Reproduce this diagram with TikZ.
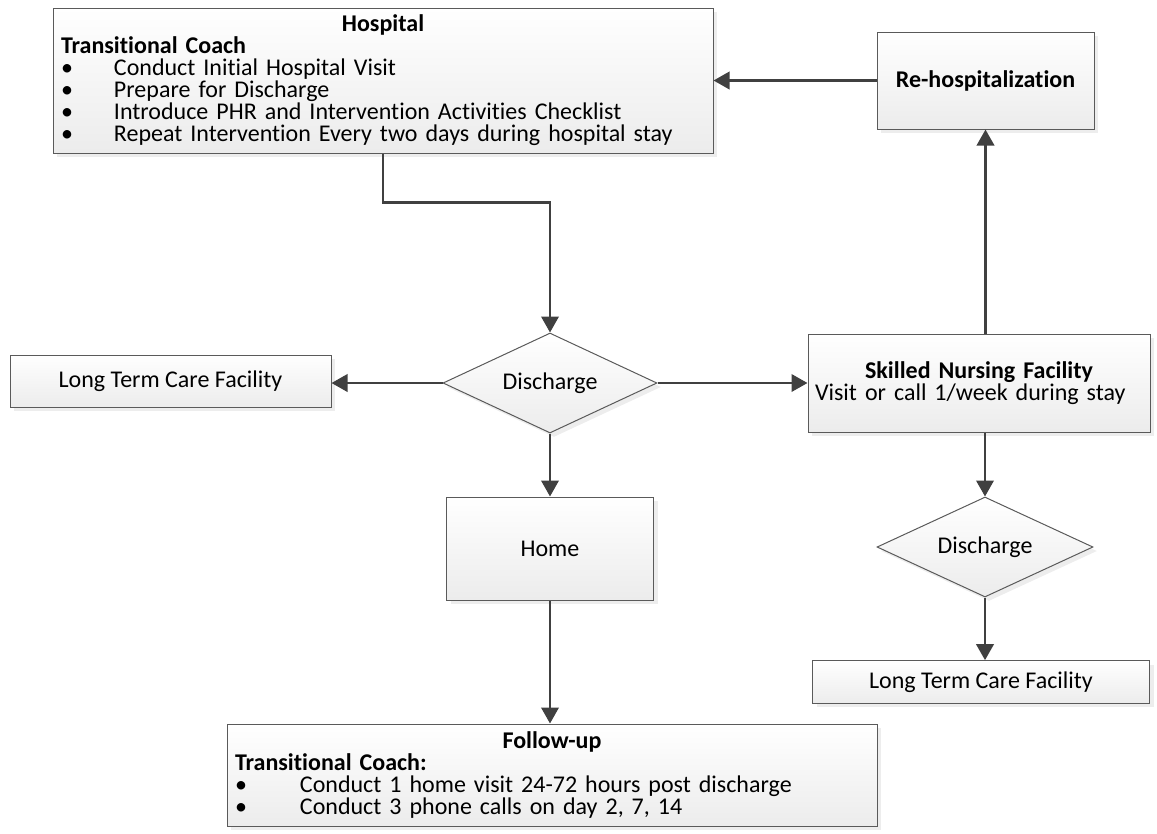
\documentclass[tikz,border=0pt]{standalone}
\usepackage{fontspec}
\setmainfont{Carlito}[Ligatures=NoCommon]
\usetikzlibrary{arrows.meta,positioning,calc,shapes.geometric,shadows}
\definecolor{edge}{HTML}{404040}
\definecolor{frame}{HTML}{5A5A5A}
\newcommand{\bul}[1]{\makebox[#1][l]{\textbullet}}

\begin{document}
\begin{tikzpicture}[x=0.75pt,y=-0.75pt,
  font=\fontsize{18}{16.5}\selectfont,
  box/.style={draw=frame, line width=0.75pt, top color=white, bottom color=gray!15, inner sep=0pt,
    drop shadow={shadow xshift=3pt, shadow yshift=-3pt, fill=gray!28}},
  dec/.style={box, diamond, aspect=2.14},
  arr/.style={-{Triangle[length=12pt,width=13pt]}, draw=edge, line width=2pt}]
\useasboundingbox (0,0) rectangle (1157,833);
% ----- top row
\node[box, minimum width=495pt, minimum height=108.75pt, text width=483pt, align=left] (hosp) at (383,80.5) {{\centering\textbf{Hospital}\par}\textbf{Transitional Coach}\\
  \bul{39.75pt}Conduct Initial Hospital Visit\\
  \bul{39.75pt}Prepare for Discharge\\
  \bul{39.75pt}Introduce PHR and Intervention Activities Checklist\\
  \bul{39.75pt}Repeat Intervention Every two days during hospital stay};
\node[box, minimum width=162.75pt, minimum height=72.75pt] (rehosp) at (985.5,80.5) {\textbf{Re-hospitalization}};
% ----- discharge row
\node[dec, minimum width=160.5pt, minimum height=75pt] (dis1) at (550,383) {Discharge};
\node[box, minimum width=240.75pt, minimum height=39pt] (ltc1) at (170.5,381) {Long Term Care Facility};
\node[box, minimum width=256.5pt, minimum height=73.5pt, text width=246pt, align=left] (snf) at (979,383) {{\centering\textbf{Skilled Nursing Facility}\par}Visit or call 1/week during stay};
% ----- lower part
\node[box, minimum width=155.25pt, minimum height=77.25pt] (home) at (550,548.5) {Home};
\node[dec, minimum width=162pt, minimum height=75pt] (dis2) at (985,547) {Discharge};
\node[box, minimum width=252.75pt, minimum height=32pt] (ltc2) at (981,682) {Long Term Care Facility};
\node[box, minimum width=487.5pt, minimum height=76.5pt, text width=475.5pt, align=left] (follow) at (552,775) {{\centering\textbf{Follow-up}\par}\textbf{Transitional Coach:}\\
  \bul{48.75pt}Conduct 1 home visit 24-72 hours post discharge\\
  \bul{48.75pt}Conduct 3 phone calls on day 2, 7, 14};
% ----- connectors
\draw[arr] (hosp.south) -- ++(0,49) -| (dis1.north);
\draw[arr] (rehosp.west) -- (hosp.east);
\draw[arr] (dis1.west) -- (dis1.west -| ltc1.east);
\draw[arr] (dis1.east) -- (dis1.east -| snf.west);
\draw[arr] (dis1.south) -- (home.north);
\draw[arr] (home.south) -- (home.south |- follow.north);
\draw[arr] (snf.north -| rehosp.south) -- (rehosp.south);
\draw[arr] (snf.south -| dis2.north) -- (dis2.north);
\draw[arr] (dis2.south) -- (dis2.south |- ltc2.north);
\end{tikzpicture}
\end{document}
